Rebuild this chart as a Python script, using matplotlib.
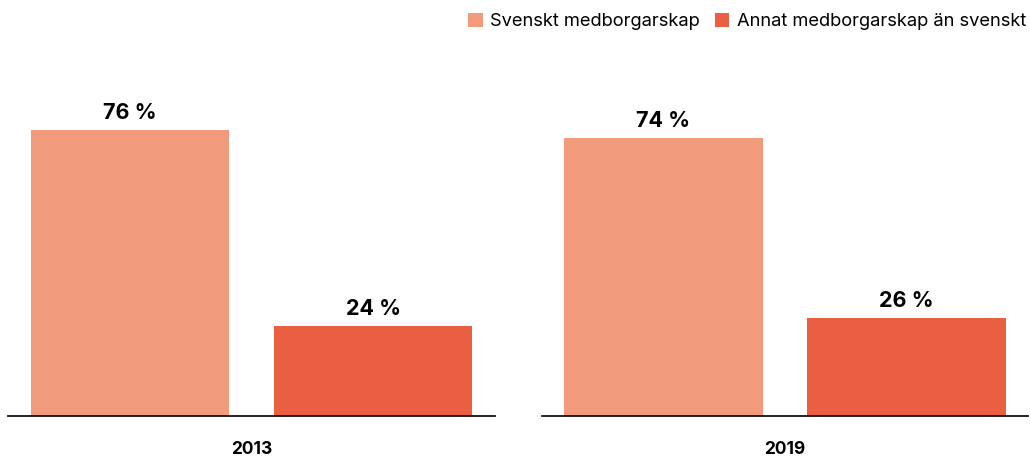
import matplotlib
matplotlib.use("Agg")
import matplotlib.pyplot as plt
from matplotlib.patches import Patch

plt.rcParams['font.family'] = ['Inter', 'DejaVu Sans']

years = ["2013", "2019"]
series = ["Svenskt medborgarskap", "Annat medborgarskap än svenskt"]
values = {
    "2013": [76, 24],
    "2019": [74, 26],
}
colors = ["#F29B7C", "#EA5E42"]

W, H = 1030, 458
fig = plt.figure(figsize=(W / 100, H / 100), dpi=100)

# pixel positions of the two panels
panels = [(8, 495), (542, 1028)]
base_y = 416
top_y = 60
px_per_unit = 3.76

for (x0, x1), year in zip(panels, years):
    ax = fig.add_axes([x0 / W, (H - base_y) / H, (x1 - x0) / W, (base_y - top_y) / H])
    vals = values[year]
    bars = ax.bar([0, 1], vals, width=0.815, color=colors)
    ax.set_xlim(-0.5, 1.5)
    ax.set_ylim(0, (base_y - top_y) / px_per_unit)
    for b, v in zip(bars, vals):
        ax.annotate(f"{v} %", (b.get_x() + b.get_width() / 2, v),
                    xytext=(0, 5), textcoords="offset points",
                    ha="center", va="bottom", fontsize=15.5, fontweight="bold")
    for s in ["top", "right", "left"]:
        ax.spines[s].set_visible(False)
    ax.spines["bottom"].set_linewidth(1.3)
    ax.spines["bottom"].set_color("#111111")
    ax.set_yticks([])
    ax.set_xticks([0.5])
    ax.set_xticklabels([year], fontsize=12.5, fontweight="bold")
    ax.tick_params(axis="x", length=0, pad=18)

handles = [Patch(facecolor=c, label=s) for c, s in zip(colors, series)]
fig.legend(handles=handles, loc="upper right", bbox_to_anchor=(1.012, 1.008),
           ncol=2, frameon=False, fontsize=13.2, handlelength=0.8, handleheight=0.8,
           handletextpad=0.4, columnspacing=0.8)

fig.savefig("out.png", dpi=100)
